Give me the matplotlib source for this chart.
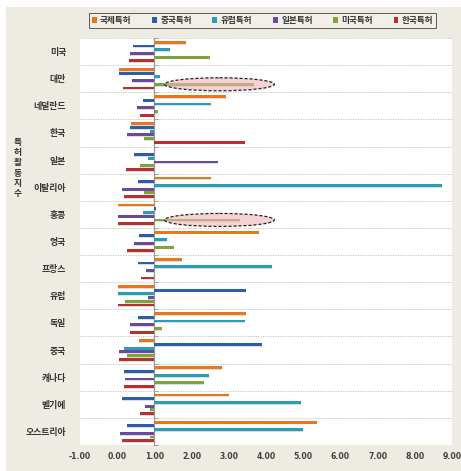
import matplotlib
matplotlib.use("Agg")
import matplotlib.pyplot as plt
from matplotlib.patches import Ellipse, Rectangle, Patch
import numpy as np

plt.rcParams['font.family'] = ['Noto Sans CJK KR', 'DejaVu Sans']

countries = ['미국', '대만', '네덜란드', '한국', '일본', '이탈리아', '홍콩', '영국',
             '프랑스', '유럽', '독일', '중국', '캐나다', '벨기에', '오스트리아']
series_names = ['국제특허', '중국특허', '유럽특허', '일본특허', '미국특허', '한국특허']
intl = [1.85, 0.06, 2.93, 0.37, 1.00, 2.51, 0.02, 3.81, 1.74, 0.02, 3.45, 0.59, 2.83, 3.00, 5.37]
china = [0.42, 0.06, 0.69, 0.35, 0.44, 0.57, 1.05, 0.58, 0.57, 3.45, 0.57, 3.90, 0.19, 0.14, 0.27]
europe = [1.42, 1.15, 2.51, 0.89, 0.82, 8.73, 0.70, 1.34, 4.15, 0.02, 3.43, 0.19, 2.47, 4.95, 4.99]
japan = [0.35, 0.40, 0.53, 0.25, 2.70, 0.12, 0.02, 0.46, 0.78, 0.82, 0.35, 0.05, 0.21, 0.75, 0.07]
usa = [2.50, 3.69, 1.10, 0.73, 0.61, 0.73, 3.29, 1.52, 1.02, 0.21, 1.21, 0.27, 2.32, 0.88, 0.88]
korea = [0.31, 0.16, 0.62, 3.43, 0.23, 0.18, 0.02, 0.25, 0.64, 0.02, 0.35, 0.05, 0.19, 0.62, 0.14]
xticks = [-1, 0, 1, 2, 3, 4, 5, 6, 7, 8, 9]
baseline = 1.0
highlight = ['대만', '홍콩']

series = [intl, china, europe, japan, usa, korea]
colors = ['#E8761E', '#2B5EA8', '#2A9CB8', '#6A4A9C', '#7DA43C', '#B8302E']

fig = plt.figure(figsize=(4.61, 4.71), dpi=100, facecolor='white')
fig.patches.append(Rectangle((6/461, 0), 1, 1 - 7/471, transform=fig.transFigure,
                             facecolor='#EEECE2', edgecolor='none', zorder=-10))
ax = fig.add_axes([80/461, 1 - 445/471, 372/461, 407/471])
ax.set_facecolor('white')

y = np.arange(len(countries))
step = 0.137
h = 0.105
for i, (vals, c) in enumerate(zip(series, colors)):
    off = (i - 2.5) * step
    v = np.array(vals)
    ax.barh(y + off + 0.03, v - baseline, left=baseline, height=h, color='#00000022',
            edgecolor='none', zorder=2)
    ax.barh(y + off, v - baseline, left=baseline, height=h, color=c, edgecolor='none',
            zorder=3)

ax.set_xlim(-1, 9)
ax.set_ylim(len(countries) - 0.5, -0.5)
ax.set_xticks(xticks)
ax.set_xticklabels([f'{t:.2f}' for t in xticks], fontsize=5.6, color='#404040',
                   family='DejaVu Sans', fontweight='bold')
ax.tick_params(axis='x', length=0, pad=5)
ax.set_yticks(y)
ax.set_yticklabels(countries, fontsize=6.4, color='#333333', fontweight='bold')
ax.tick_params(axis='y', length=0, pad=10)
for s in ax.spines.values():
    s.set_visible(False)

for b in np.arange(-0.5, len(countries) - 0.5, 1.0):
    ax.axhline(b, color='#BBBBBB', lw=0.6, ls=(0, (1.5, 1.5)), zorder=1)

sec = ax.secondary_yaxis((baseline + 1) / 10)
sec.spines['left'].set_color('#999999')
sec.spines['left'].set_linewidth(0.9)
sec.set_yticks(np.arange(-0.5, len(countries), 1.0))
sec.set_yticklabels([])
sec.tick_params(axis='y', direction='in', length=3, color='#999999', width=0.7)

usa_i = series_names.index('미국특허')
for name in highlight:
    k = countries.index(name)
    yc = k + (usa_i - 2.5) * step
    ax.add_patch(Ellipse((2.75, yc), 2.95, 0.48, facecolor='#F0B4B4', alpha=0.6,
                         edgecolor='none', zorder=4))
    ax.add_patch(Ellipse((2.75, yc), 2.95, 0.48, facecolor='none', edgecolor='#222222',
                         lw=0.9, ls=(0, (2.5, 1.5)), zorder=5))

fig.text(18/461, 1 - 168/471, '\n'.join('특허활동지수'), fontsize=6.3, color='#333333',
         fontweight='bold', ha='center', va='center', linespacing=1.15)

handles = [Patch(facecolor=c, edgecolor='none') for c in colors]
leg = fig.legend(handles, series_names, loc='center', bbox_to_anchor=(262.5/461, 1 - 20.5/471),
                 ncol=6, fontsize=6.2, frameon=True, handlelength=0.55, handleheight=0.55,
                 handletextpad=0.4, columnspacing=2.4, borderpad=0.35, fancybox=False)
leg.get_frame().set_facecolor('#F2F1EA')
leg.get_frame().set_edgecolor('#333333')
leg.get_frame().set_linewidth(0.7)
for t in leg.get_texts():
    t.set_fontweight('bold')
    t.set_color('#333333')

fig.savefig('out.png', dpi=100, facecolor=fig.get_facecolor())
